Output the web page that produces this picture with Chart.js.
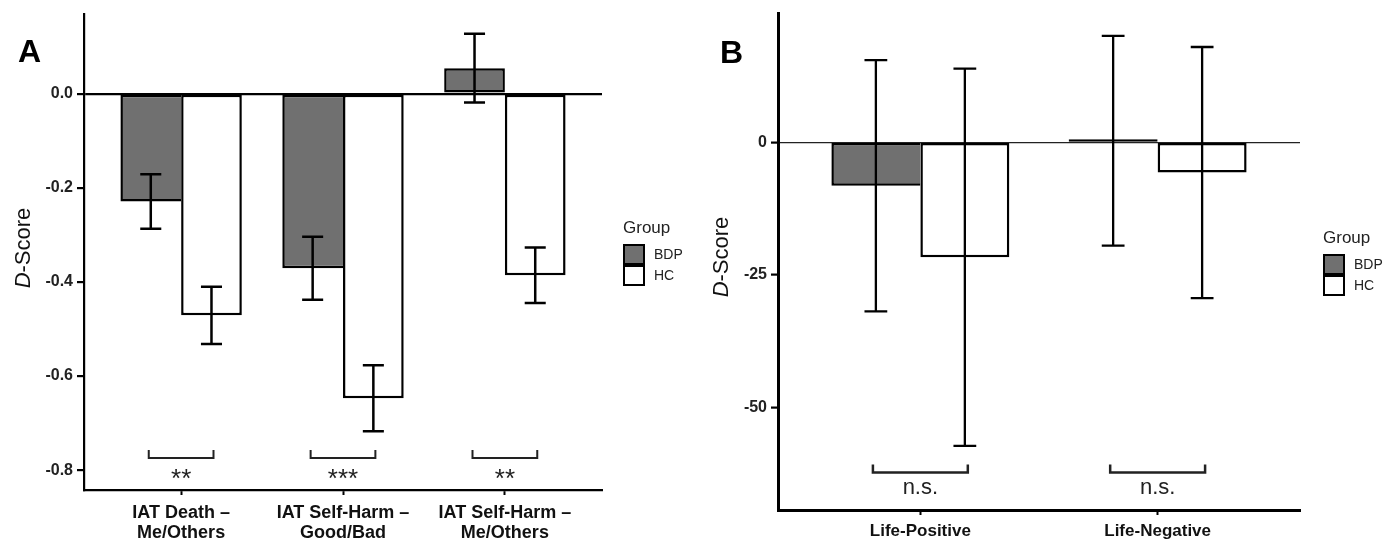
<!DOCTYPE html>
<html>
<head>
<meta charset="utf-8">
<script src="https://cdn.jsdelivr.net/npm/chart.js@4.4.1/dist/chart.umd.min.js"></script>
<style>
  html, body { margin: 0; padding: 0; background: #fff; }
  #wrap { position: relative; width: 1390px; height: 540px; }
  .panel { position: absolute; top: 0; height: 540px; }
  #panelA { left: 0; width: 700px; }
  #panelB { left: 700px; width: 690px; }
</style>
</head>
<body>
<div id="wrap">
  <div class="panel" id="panelA"><canvas id="chartA"></canvas></div>
  <div class="panel" id="panelB"><canvas id="chartB"></canvas></div>
</div>
<script>
// ===== Panel A : IAT D-scores =====
const catsA = [["IAT Death –", "Me/Others"], ["IAT Self-Harm –", "Good/Bad"], ["IAT Self-Harm –", "Me/Others"]];
const bdpA = [-0.229, -0.371, 0.054];
const bdpErrA = [0.058, 0.067, 0.073];
const hcA = [-0.471, -0.647, -0.386];
const hcErrA = [0.061, 0.070, 0.059];
const sigA = ["**", "***", "**"];
const yTicksA = [0, -0.2, -0.4, -0.6, -0.8];

// ===== Panel B : Life-Positive / Life-Negative =====
const catsB = ["Life-Positive", "Life-Negative"];
const bdpB = [-8.2, 0.3];
const bdpErrB = [23.7, 19.8];
const hcB = [-21.7, -5.7];
const hcErrB = [35.6, 23.7];
const sigB = ["n.s.", "n.s."];
const yTicksB = [0, -25, -50];

const FONT = "'Liberation Sans', Arial, Helvetica, sans-serif";
const BDP_FILL = "#707070";
Chart.defaults.font.family = FONT;

// BDP right edge is hidden when the HC bar next to it is longer on the same side
function bdpSkip(bdp, hc) {
  return (c) => {
    const i = c.dataIndex;
    return (Math.sign(bdp[i]) === Math.sign(hc[i]) && Math.abs(hc[i]) >= Math.abs(bdp[i])) ? 'right' : false;
  };
}

// error bars, brackets, significance text, panel letter, y title, legend
const extrasPlugin = {
  id: 'extras',
  afterDatasetsDraw(chart, args, o) {
    const ctx = chart.ctx;
    const xs = chart.scales.x, ys = chart.scales.y;
    const unit = xs.getPixelForValue(1) - xs.getPixelForValue(0);
    ctx.save();
    ctx.strokeStyle = '#000';
    ctx.lineWidth = o.errWidth;
    chart.data.datasets.forEach((ds, di) => {
      const meta = chart.getDatasetMeta(di);
      meta.data.forEach((bar, i) => {
        const m = ds.data[i].y, e = ds.err[i];
        const y1 = ys.getPixelForValue(m + e), y2 = ys.getPixelForValue(m - e);
        const hw = unit * o.capHalf;
        ctx.beginPath();
        ctx.moveTo(bar.x, y1); ctx.lineTo(bar.x, y2);
        ctx.moveTo(bar.x - hw, y1); ctx.lineTo(bar.x + hw, y1);
        ctx.moveTo(bar.x - hw, y2); ctx.lineTo(bar.x + hw, y2);
        ctx.stroke();
      });
    });

    // brackets
    ctx.strokeStyle = '#222';
    ctx.lineWidth = o.bracketWidth;
    const yl = ys.getPixelForValue(o.bracketY), yt = ys.getPixelForValue(o.bracketTipY);
    o.sig.forEach((s, i) => {
      const l = xs.getPixelForValue(i + 1 - 0.2), r = xs.getPixelForValue(i + 1 + 0.2);
      ctx.beginPath();
      ctx.moveTo(l, yt); ctx.lineTo(l, yl); ctx.lineTo(r, yl); ctx.lineTo(r, yt);
      ctx.stroke();
      ctx.fillStyle = '#222';
      ctx.font = o.sigFont;
      ctx.textAlign = 'center';
      ctx.textBaseline = 'alphabetic';
      ctx.fillText(s, xs.getPixelForValue(i + 1), ys.getPixelForValue(o.sigY));
    });
    ctx.restore();
  },
  afterDraw(chart, args, o) {
    const ctx = chart.ctx;
    ctx.save();
    // panel letter
    ctx.fillStyle = '#000';
    ctx.font = `bold 32px ${FONT}`;
    ctx.textAlign = 'left';
    ctx.textBaseline = 'alphabetic';
    ctx.fillText(o.letter, o.letterX, o.letterY);

    // y title: italic D + "-Score"
    ctx.translate(o.titleX, o.titleY);
    ctx.rotate(-Math.PI / 2);
    ctx.fillStyle = '#111';
    ctx.textBaseline = 'middle';
    const it = `italic 22px ${FONT}`, nm = `22px ${FONT}`;
    ctx.font = it; const w1 = ctx.measureText('D').width;
    ctx.font = nm; const w2 = ctx.measureText('-Score').width;
    const x0 = -(w1 + w2) / 2;
    ctx.font = it; ctx.fillText('D', x0, 0);
    ctx.font = nm; ctx.fillText('-Score', x0 + w1, 0);
    ctx.restore();

    // legend
    ctx.save();
    ctx.fillStyle = '#222';
    ctx.font = `17px ${FONT}`;
    ctx.textAlign = 'left';
    ctx.textBaseline = 'middle';
    ctx.fillText('Group', o.legX, o.legY);
    chart.data.datasets.forEach((ds, i) => {
      const y = o.legBoxY + i * 21;
      ctx.fillStyle = ds.backgroundColor;
      ctx.fillRect(o.legX + 1, y, 20, 19);
      ctx.strokeStyle = '#000';
      ctx.lineWidth = 2;
      ctx.strokeRect(o.legX + 1, y, 20, 19);
      ctx.fillStyle = '#222';
      ctx.font = `14px ${FONT}`;
      ctx.fillText(ds.label, o.legX + 31, y + 10);
    });
    ctx.restore();
  }
};

function makeChart(id, p) {
  return new Chart(document.getElementById(id), {
    type: 'bar',
    data: {
      datasets: [
        { label: 'BDP', data: p.bdp.map((y, i) => ({ x: i + 1, y })), err: p.bdpErr,
          backgroundColor: BDP_FILL, borderColor: '#000', borderWidth: 2.5, borderSkipped: bdpSkip(p.bdp, p.hc),
          minBarLength: p.minBar },
        { label: 'HC', data: p.hc.map((y, i) => ({ x: i + 1, y })), err: p.hcErr,
          backgroundColor: '#ffffff', borderColor: '#000', borderWidth: 2.5, borderSkipped: false,
          minBarLength: p.minBar }
      ]
    },
    options: {
      responsive: true, maintainAspectRatio: false, animation: false,
      categoryPercentage: 0.75, barPercentage: 1.0,
      layout: { padding: { left: 0, top: 13, right: p.padRight, bottom: 0 } },
      plugins: { legend: { display: false }, tooltip: { enabled: false }, extras: p.extras },
      scales: {
        x: {
          type: 'linear', min: 0.4, max: p.cats.length + 0.6, offset: false,
          afterBuildTicks: s => { s.ticks = p.cats.map((c, i) => ({ value: i + 1 })); },
          afterFit: s => { s.height = p.xHeight; },
          ticks: { callback: (v, i) => p.cats[i], font: { size: p.xFont, weight: 'bold', lineHeight: 1.1 },
                   color: '#111', padding: p.xPad, maxRotation: 0, autoSkip: false },
          grid: { offset: false, drawOnChartArea: false, tickLength: 5, tickWidth: 2, tickColor: '#000' },
          border: { display: true, color: '#000', width: p.axisWidth }
        },
        y: {
          min: p.yMin, max: p.yMax,
          afterBuildTicks: s => { s.ticks = p.yTicks.map(v => ({ value: v })); },
          afterFit: s => { s.width = p.yWidth; },
          ticks: { callback: p.yFmt, font: { size: 16, weight: 'bold' }, color: '#222', padding: 4 },
          grid: { drawOnChartArea: true, color: c => (c.tick && c.tick.value === 0) ? p.zeroColor : 'rgba(0,0,0,0)',
                  lineWidth: p.zeroWidth, tickLength: 7, tickWidth: 2.2, tickColor: '#000' },
          border: { display: true, color: '#000', width: p.axisWidth }
        }
      }
    },
    plugins: [extrasPlugin]
  });
}

makeChart('chartA', {
  cats: catsA, bdp: bdpA, bdpErr: bdpErrA, hc: hcA, hcErr: hcErrA, yTicks: yTicksA,
  yMin: -0.842, yMax: 0.17, yFmt: v => v.toFixed(1), minBar: 0,
  padRight: 98, yWidth: 84, xHeight: 50, xFont: 18, xPad: 8, axisWidth: 2.2,
  zeroColor: '#000', zeroWidth: 2.2,
  extras: { errWidth: 2.5, capHalf: 0.065, bracketWidth: 2, bracketY: -0.774, bracketTipY: -0.757,
            sig: sigA, sigY: -0.836, sigFont: `26px ${FONT}`,
            letter: 'A', letterX: 18, letterY: 62, titleX: 24, titleY: 248,
            legX: 623, legY: 228, legBoxY: 245 }
});

makeChart('chartB', {
  cats: catsB, bdp: bdpB, bdpErr: bdpErrB, hc: hcB, hcErr: hcErrB, yTicks: yTicksB,
  yMin: -69.4, yMax: 24.3, yFmt: v => String(v), minBar: 3,
  padRight: 90, yWidth: 78, xHeight: 30, xFont: 17, xPad: 7, axisWidth: 3,
  zeroColor: '#222', zeroWidth: 1.2,
  extras: { errWidth: 2.3, capHalf: 0.048, bracketWidth: 2.5, bracketY: -62.3, bracketTipY: -60.8,
            sig: sigB, sigY: -66.4, sigFont: `22px ${FONT}`,
            letter: 'B', letterX: 20, letterY: 63, titleX: 22, titleY: 257,
            legX: 623, legY: 238, legBoxY: 255 }
});
</script>
</body>
</html>
